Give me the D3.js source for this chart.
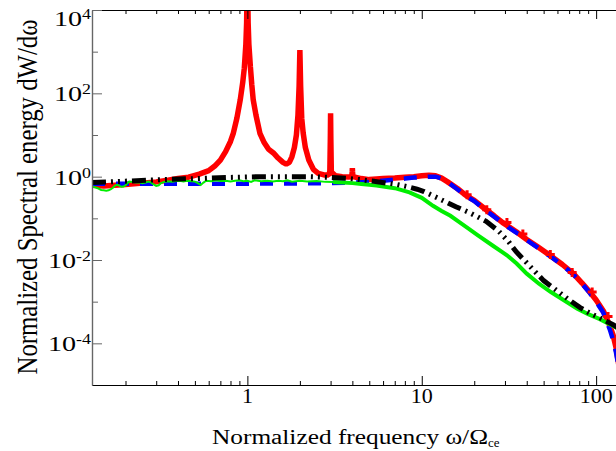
<!DOCTYPE html>
<html>
<head>
<meta charset="utf-8">
<script src="https://cdn.jsdelivr.net/npm/d3@7"></script>
<style>
body { margin: 0; background: #fff; }
text { font-family: "Liberation Serif", "Times New Roman", serif; fill: #000; }
</style>
</head>
<body>
<svg id="chart"></svg>
<script>
var w = 616, h = 451;
var margin = {top: 10, right: 0, bottom: 66, left: 92};

// tick values
var xMajor = [1, 10, 100];
var xMinor = [0.2,0.3,0.4,0.5,0.6,0.7,0.8,0.9, 2,3,4,5,6,7,8,9, 20,30,40,50,60,70,80,90];
var yMajor = [1e4, 1e2, 1, 1e-2, 1e-4];
var yMinor = [1e3, 1e1, 1e-1, 1e-3];
var yMajorExp = ["4", "2", "0", "-2", "-4"];

// series [omega, dW/domega]
var redSeries = [[0.1285,0.62],[0.15,0.6],[0.2,0.65],[0.25,0.7],[0.3,0.75],[0.35,0.82],[0.4,0.9],[0.46,0.97],[0.53,1.15],
  [0.6,1.4],[0.65,1.8],[0.7,2.5],[0.75,4],[0.8,7],[0.83,11],[0.87,25],[0.91,70],[0.94,180],[0.96,400],[0.98,1500],
  [0.99,5000],[1.0,1e5],[1.01,5000],[1.02,1500],[1.04,440],[1.06,160],[1.08,70],[1.12,30],[1.18,11],[1.25,6.5],
  [1.32,4.6],[1.41,3.7],[1.5,2.8],[1.6,2.2],[1.67,2.0],[1.74,2.2],[1.8,3],[1.86,5],[1.91,10],[1.95,30],[1.98,150],
  [2.0,1100],[2.02,150],[2.05,25],[2.09,11],[2.15,5],[2.25,2.5],[2.39,1.5],[2.55,1.2],[2.75,1.1],[2.92,1.1],[2.97,1.3],
  [2.99,8],[3.0,33],[3.01,8],[3.03,1.3],[3.2,1.05],[3.5,1.0],[3.8,0.98],[3.97,1.0],[3.99,1.3],[4.0,1.6],[4.01,1.3],
  [4.03,1.0],[4.5,0.9],[5,0.85],[5.5,0.88],[6,0.9],[7,0.93],[8,0.97],[9,1.0],[10,1.05],[11,1.08],[12,1.05],[13,0.92],
  [14,0.76],[16,0.52],[18,0.35],[20,0.27],[23,0.17],[26,0.115],[29,0.08],[31,0.066],[35,0.047],[40,0.031],[46,0.021],
  [55,0.0125],[64,0.0078],[74,0.0047],[83,0.0028],[92,0.0017],[100,0.0011],[110,6e-4],[120,2.6e-4],[125,1.6e-4],
  [130,8e-5],[135,3e-5]];
var redMarks = [[18.2,0.37],[23.6,0.16],[30.8,0.079],[38,0.042],[54.6,0.0135],[72.9,0.005],[94.9,0.0017],[117,4.4e-4]];

var blueSeries = [[0.1285,0.68],[0.2,0.68],[0.5,0.68],[1,0.68],[2,0.69],[3,0.7],[4,0.72],[5,0.75],[6,0.8],[7,0.85],
  [8,0.9],[9,0.95],[10,0.98],[11,1.0],[12,1.0],[13,0.9],[14,0.76],[16,0.5],[18,0.34],[20,0.26],[23,0.16],[26,0.11],
  [31,0.063],[35,0.045],[40,0.03],[46,0.02],[55,0.012],[64,0.0075],[74,0.0045],[83,0.0027],[92,0.0016],[100,0.001],
  [110,5.4e-4],[120,2.1e-4],[125,1.2e-4],[130,6e-5],[135,2.5e-5]];

var blackSeries = [[0.1285,0.72],[0.2,0.78],[0.3,0.84],[0.5,0.9],[0.8,0.96],[1.2,1.0],[2.3,1.0],[3,0.96],[3.7,0.92],
  [4.4,0.85],[5.3,0.78],[6.3,0.7],[7.2,0.65],[8.2,0.58],[9.4,0.5],[10.3,0.44],[12.3,0.31],[15.7,0.19],[18.9,0.135],
  [23.4,0.085],[27.5,0.05],[31.4,0.028],[34.7,0.016],[43,0.0062],[50,0.0032],[60,0.0018],[70,0.0011],[81,7.2e-4],
  [92,5.3e-4],[105,4.1e-4],[125,2.8e-4],[135,2.3e-4]];

var greenLow = [[0.1285,0.58],[0.135,0.55],[0.14,0.52],[0.145,0.48],[0.15,0.47],[0.155,0.46],[0.16,0.47],[0.165,0.5],
  [0.17,0.55],[0.175,0.62],[0.18,0.64],[0.185,0.6],[0.19,0.57],[0.195,0.58],[0.2,0.62],[0.205,0.7],[0.21,0.76],
  [0.22,0.74],[0.23,0.72],[0.24,0.73],[0.25,0.7],[0.26,0.72],[0.27,0.76],[0.28,0.73],[0.29,0.65],[0.3,0.6],[0.31,0.62],
  [0.32,0.7],[0.33,0.74],[0.35,0.78],[0.37,0.76],[0.39,0.79],[0.41,0.8],[0.43,0.77],[0.45,0.8],[0.48,0.78],[0.5,0.76],
  [0.52,0.7],[0.54,0.63],[0.56,0.72],[0.58,0.8],[0.62,0.78],[0.66,0.82],[0.7,0.79],[0.75,0.8],[0.8,0.77],[0.85,0.8],
  [0.9,0.82],[0.95,0.78],[1.0,0.8],[1.05,0.75],[1.1,0.82],[1.15,0.8],[1.2,0.78],[1.3,0.8],[1.4,0.77],[1.5,0.8],
  [1.6,0.78],[1.7,0.82],[1.8,0.76],[2.0,0.8],[2.2,0.77],[2.5,0.79],[2.8,0.75],[3.1,0.74]];
var greenHigh = [[3.1,0.74],[3.5,0.72],[4,0.7],[4.5,0.67],[5,0.64],[5.5,0.61],[6,0.58],[7,0.53],[7.5,0.49],[8.5,0.42],
  [10,0.31],[11.6,0.2],[13,0.15],[14.6,0.115],[16.5,0.08],[18.2,0.06],[21,0.039],[25.6,0.022],[30.8,0.013],
  [35,0.0082],[40,0.0047],[47,0.0027],[55,0.0017],[65,0.0011],[78,6.8e-4],[90,5e-4],[105,3.8e-4],[125,2.6e-4],[135,2.2e-4]];

var svg = d3.select("#chart").attr("width", w).attr("height", h);

var x = d3.scaleLog().domain([0.1285, 130]).range([margin.left, w - margin.right]);
var y = d3.scaleLog().domain([1e-5, 1e4]).range([h - margin.bottom, margin.top]);

svg.append("clipPath").attr("id", "plotclip")
  .append("rect")
  .attr("x", margin.left).attr("y", margin.top)
  .attr("width", w - margin.left - margin.right)
  .attr("height", h - margin.top - margin.bottom);

var line = d3.line()
  .x(function(d){ return x(d[0]); })
  .y(function(d){ return y(d[1]); });

var plot = svg.append("g").attr("clip-path", "url(#plotclip)");

plot.append("path").datum(redSeries)
  .attr("d", line).attr("fill", "none")
  .attr("stroke", "#ff0000").attr("stroke-width", 5.5)
  .attr("stroke-linejoin", "bevel");

plot.append("path").datum(blueSeries)
  .attr("d", line).attr("fill", "none")
  .attr("stroke", "#0000ff").attr("stroke-width", 4.5)
  .attr("stroke-dasharray", "13,11");

plot.selectAll(".rmark").data(redMarks).enter()
  .append("path").attr("class", "rmark")
  .attr("d", d3.symbol(d3.symbolCross).size(45))
  .attr("transform", function(d){ return "translate(" + x(d[0]) + "," + y(d[1]) + ")"; })
  .attr("fill", "#ff0000");

plot.append("path").datum(greenLow)
  .attr("d", line).attr("fill", "none")
  .attr("stroke", "#00ee00").attr("stroke-width", 2);

plot.append("path").datum(greenHigh)
  .attr("d", line).attr("fill", "none")
  .attr("stroke", "#00ee00").attr("stroke-width", 4);

plot.append("path").datum(blackSeries)
  .attr("d", line).attr("fill", "none")
  .attr("stroke", "#000").attr("stroke-width", 5)
  .attr("stroke-dasharray", "14,5,2,5,2,5,2,5");

// axes
var yb = h - margin.bottom;
svg.append("g").attr("transform", "translate(0," + yb + ")")
  .call(d3.axisBottom(x).tickValues(xMinor).tickSize(-4).tickSizeOuter(0).tickFormat(""));
svg.append("g").attr("transform", "translate(0," + yb + ")")
  .call(d3.axisBottom(x).tickValues(xMajor).tickSize(-9).tickSizeOuter(0).tickFormat(""));
svg.append("g").attr("transform", "translate(0," + margin.top + ")")
  .call(d3.axisTop(x).tickValues(xMinor).tickSize(-4).tickSizeOuter(0).tickFormat(""));
svg.append("g").attr("transform", "translate(0," + margin.top + ")")
  .call(d3.axisTop(x).tickValues(xMajor).tickSize(-9).tickSizeOuter(0).tickFormat(""));
svg.append("g").attr("class", "yax").attr("transform", "translate(" + margin.left + ",0)")
  .call(d3.axisLeft(y).tickValues(yMinor).tickSize(-6).tickSizeOuter(0).tickFormat(""));
svg.append("g").attr("class", "yax").attr("transform", "translate(" + margin.left + ",0)")
  .call(d3.axisLeft(y).tickValues(yMajor).tickSize(-10).tickSizeOuter(0).tickFormat(""));

svg.selectAll(".domain").attr("stroke", "#000").attr("stroke-width", 1.2);
svg.selectAll(".tick line").attr("stroke", "#000").attr("stroke-width", 1);
svg.selectAll(".yax .domain, .yax .tick line").attr("stroke", "#666");

// x tick labels
svg.selectAll(".xlab").data(xMajor).enter()
  .append("text").attr("class", "xlab")
  .attr("x", function(d){ return x(d); })
  .attr("y", 403)
  .attr("text-anchor", "middle").attr("font-size", 22)
  .text(function(d){ return String(d); });

// y tick labels with superscript exponents
yMajor.forEach(function(v, i){
  var base = Math.max(y(v) + 8, 26);
  var t = svg.append("text")
    .attr("transform", "translate(91," + base + ") scale(1.28,1)")
    .attr("text-anchor", "end").attr("font-size", 22);
  t.append("tspan").text("10");
  t.append("tspan").attr("font-size", 14).attr("dy", -7).text(yMajorExp[i]);
});

// axis titles
var xl = svg.append("text")
  .attr("x", 212).attr("y", 444).attr("font-size", 20);
xl.append("tspan").attr("textLength", 276).attr("lengthAdjust", "spacingAndGlyphs")
  .text("Normalized frequency \u03c9/\u03a9");
xl.append("tspan").attr("font-size", 13).attr("dy", 3).text("ce");

svg.append("text")
  .attr("transform", "translate(37,197) scale(1.35,1) rotate(-90)")
  .attr("text-anchor", "middle").attr("font-size", 22)
  .attr("textLength", 355).attr("lengthAdjust", "spacingAndGlyphs")
  .text("Normalized Spectral energy dW/d\u03c9");
</script>
</body>
</html>
